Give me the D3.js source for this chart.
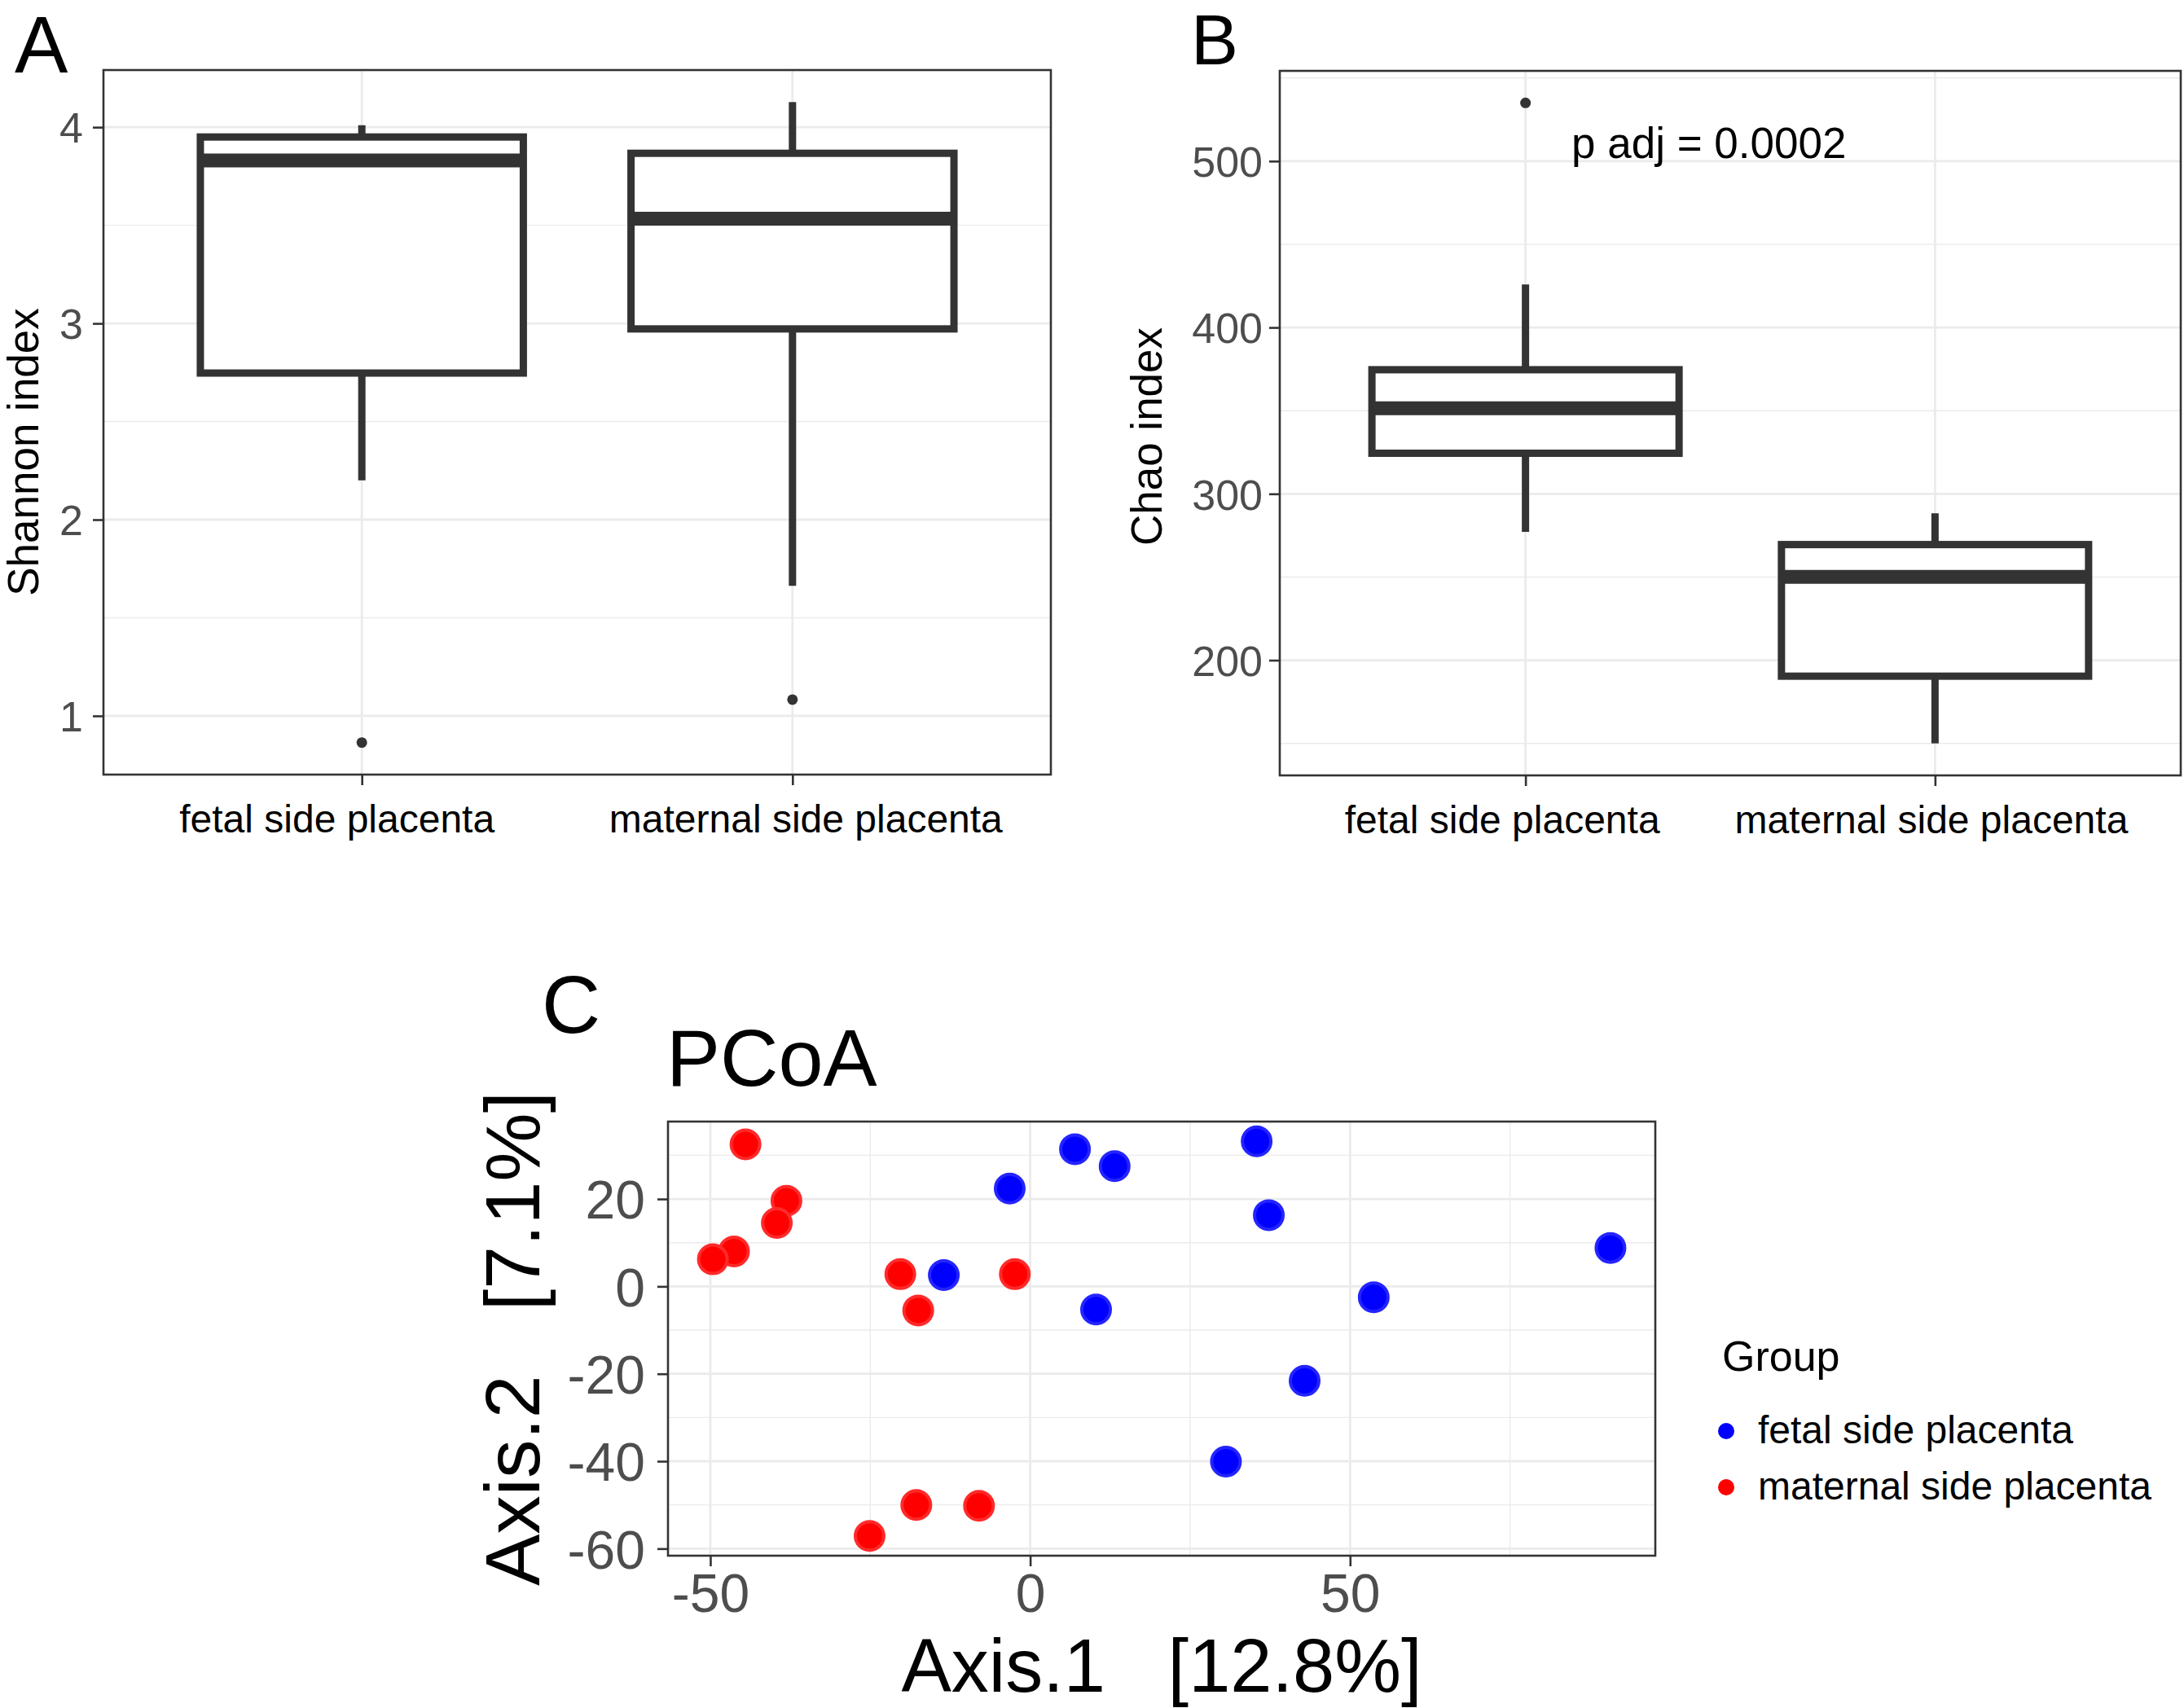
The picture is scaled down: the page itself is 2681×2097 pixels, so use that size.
<!DOCTYPE html>
<html>
<head>
<meta charset="utf-8">
<script src="https://cdn.jsdelivr.net/npm/d3@7"></script>
<style>
  html, body { margin: 0; padding: 0; background: #ffffff; }
  svg { display: block; }
  text { font-family: "Liberation Sans", Arial, Helvetica, sans-serif; }
</style>
</head>
<body>
<svg id="chart" width="2681" height="2097"></svg>
<script>
// ---------------- DATA ----------------
const categories = ["fetal side placenta", "maternal side placenta"];

// Panel A: Shannon index box statistics (per category)
const shannonLower  = [2.20, 1.663];
const shannonQ1     = [2.747, 2.972];
const shannonMedian = [3.83, 3.534];
const shannonQ3     = [3.95, 3.867];
const shannonUpper  = [4.01, 4.128];
const shannonOutliers = [[0.864], [1.083]];
const shannonTicks = [1, 2, 3, 4];
const shannonMinor = [1.5, 2.5, 3.5];

// Panel B: Chao index box statistics (per category)
const chaoLower  = [277.2, 150.0];
const chaoQ1     = [324.4, 190.4];
const chaoMedian = [351.4, 250.1];
const chaoQ3     = [374.6, 269.5];
const chaoUpper  = [425.8, 288.3];
const chaoOutliers = [[535], []];
const chaoTicks = [200, 300, 400, 500];
const chaoMinor = [150, 250, 350, 450, 550];
const chaoLabel = "p adj = 0.0002";

// Panel C: PCoA coordinates
const fetalAxis1 = [7.0, 13.2, -3.2, 35.4, 37.3, 90.7, -13.5, 10.3, 53.7, 42.9, 30.6];
const fetalAxis2 = [31.4, 27.5, 22.4, 33.2, 16.3, 8.8, 2.6, -5.3, -2.5, -21.6, -40.1];
const maternalAxis1 = [-44.5, -38.1, -39.6, -46.3, -49.6, -20.3, -2.4, -17.5, -17.8, -8.0, -25.1];
const maternalAxis2 = [32.5, 19.6, 14.5, 8.0, 6.2, 2.8, 2.8, -5.5, -50.0, -50.2, -57.1];
const pcoaXTicks = [-50, 0, 50];
const pcoaXMinor = [-25, 25, 75];
const pcoaYTicks = [-60, -40, -20, 0, 20];
const pcoaYMinor = [-50, -30, -10, 10, 30];
const groupColors = ["#0000ff", "#ff0000"];
const groupRing = ["#2424ff", "#ff2a2a"];

// ---------------- HELPERS ----------------
const FONT = '"Liberation Sans", Arial, Helvetica, sans-serif';
const svg = d3.select("#chart");
svg.append("rect").attr("width", 2681).attr("height", 2097).attr("fill", "#ffffff");

const GRID = "#ebebeb", DARK = "#333333", TICKTXT = "#4d4d4d";
const plainFmt = d => String(d);   // ASCII hyphen-minus like the reference

function expand(lo, hi, m = 0.05) { const s = hi - lo; return [lo - s * m, hi + s * m]; }

function styleAxis(ax, color) {
  ax.select(".domain").remove();
  ax.selectAll(".tick line").attr("stroke", DARK).attr("stroke-width", 2.6);
  ax.selectAll(".tick text").attr("fill", color || TICKTXT).style("font-family", FONT);
}

function drawBoxPanel(o) {
  const g = svg.append("g");
  const all = [].concat(o.lower, o.upper, o.outliers.flat());
  const y = d3.scaleLinear().domain(expand(d3.min(all), d3.max(all))).range([o.bottom, o.top]);
  const x = d3.scalePoint().domain(categories).range([o.left, o.right]).padding(0.6);
  const bw = x.step() * 0.75;

  // grid
  g.selectAll(".minor").data(o.minor.filter(v => v > y.domain()[0] && v < y.domain()[1]))
    .join("line").attr("x1", o.left).attr("x2", o.right)
    .attr("y1", d => y(d)).attr("y2", d => y(d)).attr("stroke", GRID).attr("stroke-width", 1.4);
  g.selectAll(".major").data(o.ticks).join("line").attr("x1", o.left).attr("x2", o.right)
    .attr("y1", d => y(d)).attr("y2", d => y(d)).attr("stroke", GRID).attr("stroke-width", 2.8);
  g.selectAll(".vmajor").data(categories).join("line").attr("y1", o.top).attr("y2", o.bottom)
    .attr("x1", d => x(d)).attr("x2", d => x(d)).attr("stroke", GRID).attr("stroke-width", 2.8);

  // boxes
  categories.forEach((c, i) => {
    const cx = x(c);
    g.append("line").attr("x1", cx).attr("x2", cx).attr("y1", y(o.q3[i])).attr("y2", y(o.upper[i]))
      .attr("stroke", DARK).attr("stroke-width", 9);
    g.append("line").attr("x1", cx).attr("x2", cx).attr("y1", y(o.q1[i])).attr("y2", y(o.lower[i]))
      .attr("stroke", DARK).attr("stroke-width", 9);
    g.append("rect").attr("x", cx - bw / 2).attr("width", bw)
      .attr("y", y(o.q3[i])).attr("height", y(o.q1[i]) - y(o.q3[i]))
      .attr("fill", "#ffffff").attr("stroke", DARK).attr("stroke-width", 9);
    g.append("line").attr("x1", cx - bw / 2).attr("x2", cx + bw / 2)
      .attr("y1", y(o.median[i])).attr("y2", y(o.median[i]))
      .attr("stroke", DARK).attr("stroke-width", 17);
    g.selectAll(null).data(o.outliers[i]).join("circle")
      .attr("cx", cx).attr("cy", d => y(d)).attr("r", 6.5).attr("fill", DARK);
  });

  // frame
  g.append("rect").attr("x", o.left).attr("y", o.top).attr("width", o.right - o.left)
    .attr("height", o.bottom - o.top).attr("fill", "none").attr("stroke", DARK).attr("stroke-width", 2.6);

  // axes
  const ay = g.append("g").attr("transform", `translate(${o.left},0)`)
    .call(d3.axisLeft(y).tickValues(o.ticks).tickSize(13).tickPadding(o.yPad).tickFormat(plainFmt));
  styleAxis(ay);
  ay.selectAll(".tick text").style("font-size", "52px").attr("dy", "0.36em");

  const ax = g.append("g").attr("transform", `translate(0,${o.bottom})`)
    .call(d3.axisBottom(x).tickSize(13));
  styleAxis(ax, "#000");
  ax.selectAll(".tick text").style("font-size", "48px").attr("y", 71).attr("dy", null)
    .attr("dx", (d, i) => o.labelShift[i]);

  // y title
  g.append("text").attr("transform", `translate(${o.titleX},${o.titleY}) rotate(-90)`)
    .attr("text-anchor", "middle").style("font-size", "53px").attr("fill", "#000")
    .text(o.ytitle);
  return { x, y, g };
}

// ---------------- PANEL A ----------------
drawBoxPanel({
  left: 127, right: 1290, top: 86, bottom: 951,
  lower: shannonLower, q1: shannonQ1, median: shannonMedian, q3: shannonQ3, upper: shannonUpper,
  outliers: shannonOutliers, ticks: shannonTicks, minor: shannonMinor,
  yPad: 12, ytitle: "Shannon index", titleX: 47, titleY: 555, labelShift: [-31, 16]
});
svg.append("text").attr("x", 18).attr("y", 89).style("font-size", "98px").attr("fill", "#000").text("A");

// ---------------- PANEL B ----------------
const pB = drawBoxPanel({
  left: 1571, right: 2677, top: 87, bottom: 952,
  lower: chaoLower, q1: chaoQ1, median: chaoMedian, q3: chaoQ3, upper: chaoUpper,
  outliers: chaoOutliers, ticks: chaoTicks, minor: chaoMinor,
  yPad: 8, ytitle: "Chao index", titleX: 1426, titleY: 536, labelShift: [-29, -5]
});
pB.g.append("text").attr("x", 1929).attr("y", 194).style("font-size", "53px")
  .attr("fill", "#000").text(chaoLabel);
svg.append("text").attr("x", 1462).attr("y", 79).style("font-size", "87px").attr("fill", "#000").text("B");

// ---------------- PANEL C ----------------
(function () {
  const left = 820, right = 2032, top = 1377, bottom = 1910;
  const allX = fetalAxis1.concat(maternalAxis1), allY = fetalAxis2.concat(maternalAxis2);
  const x = d3.scaleLinear().domain(expand(d3.min(allX), d3.max(allX))).range([left, right]);
  const y = d3.scaleLinear().domain(expand(d3.min(allY), d3.max(allY))).range([bottom, top]);
  const g = svg.append("g");

  g.selectAll(".xm").data(pcoaXMinor).join("line").attr("y1", top).attr("y2", bottom)
    .attr("x1", d => x(d)).attr("x2", d => x(d)).attr("stroke", GRID).attr("stroke-width", 1.4);
  g.selectAll(".ym").data(pcoaYMinor).join("line").attr("x1", left).attr("x2", right)
    .attr("y1", d => y(d)).attr("y2", d => y(d)).attr("stroke", GRID).attr("stroke-width", 1.4);
  g.selectAll(".xM").data(pcoaXTicks).join("line").attr("y1", top).attr("y2", bottom)
    .attr("x1", d => x(d)).attr("x2", d => x(d)).attr("stroke", GRID).attr("stroke-width", 2.8);
  g.selectAll(".yM").data(pcoaYTicks).join("line").attr("x1", left).attr("x2", right)
    .attr("y1", d => y(d)).attr("y2", d => y(d)).attr("stroke", GRID).attr("stroke-width", 2.8);

  const groups = [
    { a1: fetalAxis1, a2: fetalAxis2, c: groupColors[0], r: groupRing[0] },
    { a1: maternalAxis1, a2: maternalAxis2, c: groupColors[1], r: groupRing[1] }
  ];
  groups.forEach(gr => {
    g.selectAll(null).data(d3.range(gr.a1.length)).join("circle")
      .attr("cx", i => x(gr.a1[i])).attr("cy", i => y(gr.a2[i])).attr("r", 17.5)
      .attr("fill", gr.c).attr("stroke", gr.r).attr("stroke-width", 4);
  });

  g.append("rect").attr("x", left).attr("y", top).attr("width", right - left)
    .attr("height", bottom - top).attr("fill", "none").attr("stroke", DARK).attr("stroke-width", 2.6);

  const ay = g.append("g").attr("transform", `translate(${left},0)`)
    .call(d3.axisLeft(y).tickValues(pcoaYTicks).tickSize(13).tickPadding(15).tickFormat(plainFmt));
  styleAxis(ay);
  ay.selectAll(".tick text").style("font-size", "66px").attr("dy", "0.36em");
  const ax = g.append("g").attr("transform", `translate(0,${bottom})`)
    .call(d3.axisBottom(x).tickValues(pcoaXTicks).tickSize(13).tickFormat(plainFmt));
  styleAxis(ax);
  ax.selectAll(".tick text").style("font-size", "66px").attr("y", 69).attr("dy", null);

  g.append("text").attr("x", (left + right) / 2).attr("y", 2077).attr("text-anchor", "middle")
    .style("font-size", "92px").style("white-space", "pre").attr("fill", "#000").text("Axis.1   [12.8%]");
  g.append("text").attr("transform", `translate(662,${(top + bottom) / 2}) rotate(-90)`)
    .attr("text-anchor", "middle").style("font-size", "95px").style("white-space", "pre")
    .attr("fill", "#000").text("Axis.2   [7.1%]");
  g.append("text").attr("x", 818).attr("y", 1333).style("font-size", "99px").attr("fill", "#000").text("PCoA");
  svg.append("text").attr("x", 665).attr("y", 1268).style("font-size", "100px").attr("fill", "#000").text("C");

  // legend
  const lg = svg.append("g");
  lg.append("text").attr("x", 2114).attr("y", 1683).style("font-size", "52px").attr("fill", "#000").text("Group");
  const legY = [1757, 1826];
  categories.forEach((c, i) => {
    lg.append("circle").attr("cx", 2119).attr("cy", legY[i]).attr("r", 10).attr("fill", groupColors[i]);
    lg.append("text").attr("x", 2158).attr("y", legY[i] + 15).style("font-size", "48px")
      .attr("fill", "#000").text(c);
  });
})();
</script>
</body>
</html>
